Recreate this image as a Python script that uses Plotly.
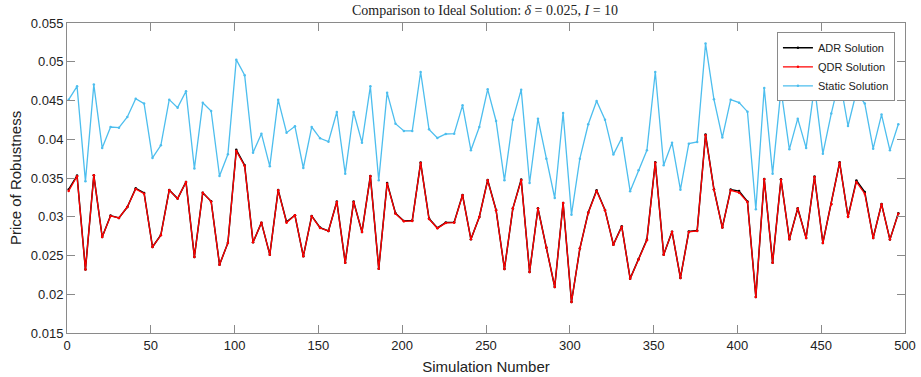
import plotly.graph_objects as go

sim_number = list(range(1, 497, 5))

static_solution = [
    0.04511, 0.04683, 0.03457, 0.04705, 0.03888, 0.04158, 0.04150, 0.04288, 0.04524, 0.04460,
    0.03759, 0.03922, 0.04511, 0.04408, 0.04619, 0.03621, 0.04470, 0.04365, 0.03526, 0.03806,
    0.05027, 0.04825, 0.03827, 0.04072, 0.03651, 0.04511, 0.04085, 0.04167, 0.03629, 0.04158,
    0.04012, 0.03969, 0.04352, 0.03556, 0.04352, 0.03956, 0.04683, 0.03470, 0.04601, 0.04201,
    0.04107, 0.04107, 0.04868, 0.04128, 0.04017, 0.04068, 0.04072, 0.04438, 0.03857, 0.04158,
    0.04644, 0.04236, 0.03470, 0.04253, 0.04640, 0.03436, 0.04266, 0.03750, 0.03242, 0.04339,
    0.03027, 0.03750, 0.04193, 0.04494, 0.04253, 0.03802, 0.04017, 0.03330, 0.03599, 0.03857,
    0.04868, 0.03664, 0.03956, 0.03350, 0.03943, 0.03965, 0.05234, 0.04515, 0.04021, 0.04511,
    0.04472, 0.04356, 0.03096, 0.04662, 0.03556, 0.04644, 0.03870, 0.04266, 0.03888, 0.04683,
    0.03814, 0.04331, 0.04782, 0.04171, 0.04610, 0.04460, 0.03879, 0.04318, 0.03857, 0.04193,
]

qdr_solution = [
    0.03333, 0.03522, 0.02318, 0.03535, 0.02739, 0.03010, 0.02984, 0.03126, 0.03358, 0.03298,
    0.02610, 0.02761, 0.03341, 0.03234, 0.03449, 0.02481, 0.03311, 0.03195, 0.02382, 0.02662,
    0.03849, 0.03655, 0.02670, 0.02924, 0.02511, 0.03341, 0.02924, 0.03019, 0.02490, 0.03006,
    0.02855, 0.02817, 0.03191, 0.02408, 0.03191, 0.02804, 0.03522, 0.02330, 0.03427, 0.03040,
    0.02941, 0.02946, 0.03694, 0.02971, 0.02851, 0.02920, 0.02924, 0.03277, 0.02709, 0.02997,
    0.03470, 0.03083, 0.02326, 0.03105, 0.03470, 0.02287, 0.03105, 0.02602, 0.02094, 0.03178,
    0.01900, 0.02589, 0.03049, 0.03333, 0.03083, 0.02640, 0.02872, 0.02201, 0.02447, 0.02696,
    0.03698, 0.02511, 0.02808, 0.02210, 0.02804, 0.02817, 0.04051, 0.03350, 0.02860, 0.03341,
    0.03311, 0.03191, 0.01965, 0.03483, 0.02408, 0.03479, 0.02709, 0.03105, 0.02726, 0.03513,
    0.02662, 0.03161, 0.03698, 0.02997, 0.03449, 0.03298, 0.02726, 0.03161, 0.02705, 0.03040,
]

adr_solution = [
    0.03353, 0.03532, 0.02318, 0.03535, 0.02739, 0.03015, 0.02984, 0.03126, 0.03368, 0.03308,
    0.02610, 0.02766, 0.03346, 0.03234, 0.03449, 0.02481, 0.03311, 0.03200, 0.02382, 0.02662,
    0.03864, 0.03665, 0.02670, 0.02924, 0.02511, 0.03346, 0.02934, 0.03019, 0.02490, 0.03011,
    0.02860, 0.02817, 0.03196, 0.02408, 0.03196, 0.02804, 0.03527, 0.02330, 0.03437, 0.03045,
    0.02946, 0.02951, 0.03699, 0.02976, 0.02856, 0.02925, 0.02929, 0.03282, 0.02709, 0.02997,
    0.03475, 0.03088, 0.02326, 0.03105, 0.03480, 0.02287, 0.03110, 0.02602, 0.02094, 0.03178,
    0.01900, 0.02589, 0.03054, 0.03343, 0.03088, 0.02640, 0.02877, 0.02201, 0.02452, 0.02706,
    0.03703, 0.02511, 0.02808, 0.02210, 0.02809, 0.02822, 0.04061, 0.03355, 0.02860, 0.03351,
    0.03331, 0.03196, 0.01965, 0.03488, 0.02408, 0.03484, 0.02709, 0.03110, 0.02726, 0.03518,
    0.02662, 0.03166, 0.03703, 0.03002, 0.03469, 0.03318, 0.02726, 0.03166, 0.02705, 0.03045,
]

x_ticks = list(range(0, 501, 50))
y_ticks = [0.015, 0.02, 0.025, 0.03, 0.035, 0.04, 0.045, 0.05, 0.055]

fig = go.Figure()
fig.add_trace(go.Scatter(x=sim_number, y=adr_solution, name="ADR Solution", mode="lines+markers",
                         line=dict(color="#000000", width=1.5), marker=dict(size=2.5, color="#000000")))
fig.add_trace(go.Scatter(x=sim_number, y=qdr_solution, name="QDR Solution", mode="lines+markers",
                         line=dict(color="#FF0000", width=1.3), marker=dict(size=2.5, color="#FF0000")))
fig.add_trace(go.Scatter(x=sim_number, y=static_solution, name="Static Solution", mode="lines+markers",
                         line=dict(color="#4DBEEE", width=1.3), marker=dict(size=2.5, color="#4DBEEE")))

axis_common = dict(showline=True, linecolor="#8a8a8a", linewidth=1, mirror="ticks",
                   ticks="inside", ticklen=8, tickcolor="#8a8a8a", tickwidth=1,
                   showgrid=False, zeroline=False, automargin=False,
                   tickfont=dict(family="Liberation Sans, Arial", size=13, color="#222222"))

fig.update_layout(
    width=921, height=377,
    margin=dict(l=67, r=16, t=23, b=44),
    paper_bgcolor="white", plot_bgcolor="white",
    title=dict(text="Comparison to Ideal Solution: <i>δ</i> = 0.025, <i>I</i> = 10",
               x=0.5266, xanchor="center", y=0.973, yanchor="middle", yref="container",
               font=dict(family="Liberation Serif, DejaVu Serif", size=14, color="#222222"), automargin=False),
    xaxis=dict(range=[0, 500], tickvals=x_ticks,
               title=dict(text="Simulation Number", font=dict(family="Liberation Sans, Arial", size=15, color="#222222"), standoff=9),
               **axis_common),
    yaxis=dict(range=[0.015, 0.055], tickvals=y_ticks,
               title=dict(text="Price of Robustness", font=dict(family="Liberation Sans, Arial", size=15, color="#222222"), standoff=5),
               **axis_common),
    legend=dict(x=0.988, xanchor="right", y=0.97, yanchor="top",
                bgcolor="white", bordercolor="#8a8a8a", borderwidth=1,
                font=dict(family="Liberation Sans, Arial", size=11, color="#222222"),
                tracegroupgap=0, itemwidth=30),
    showlegend=True,
)

# remove the default 8px page margin so the figure fills the window exactly
fig.write_html("out.html", config={"displayModeBar": False},
               post_script="document.body.style.margin='0px';")
